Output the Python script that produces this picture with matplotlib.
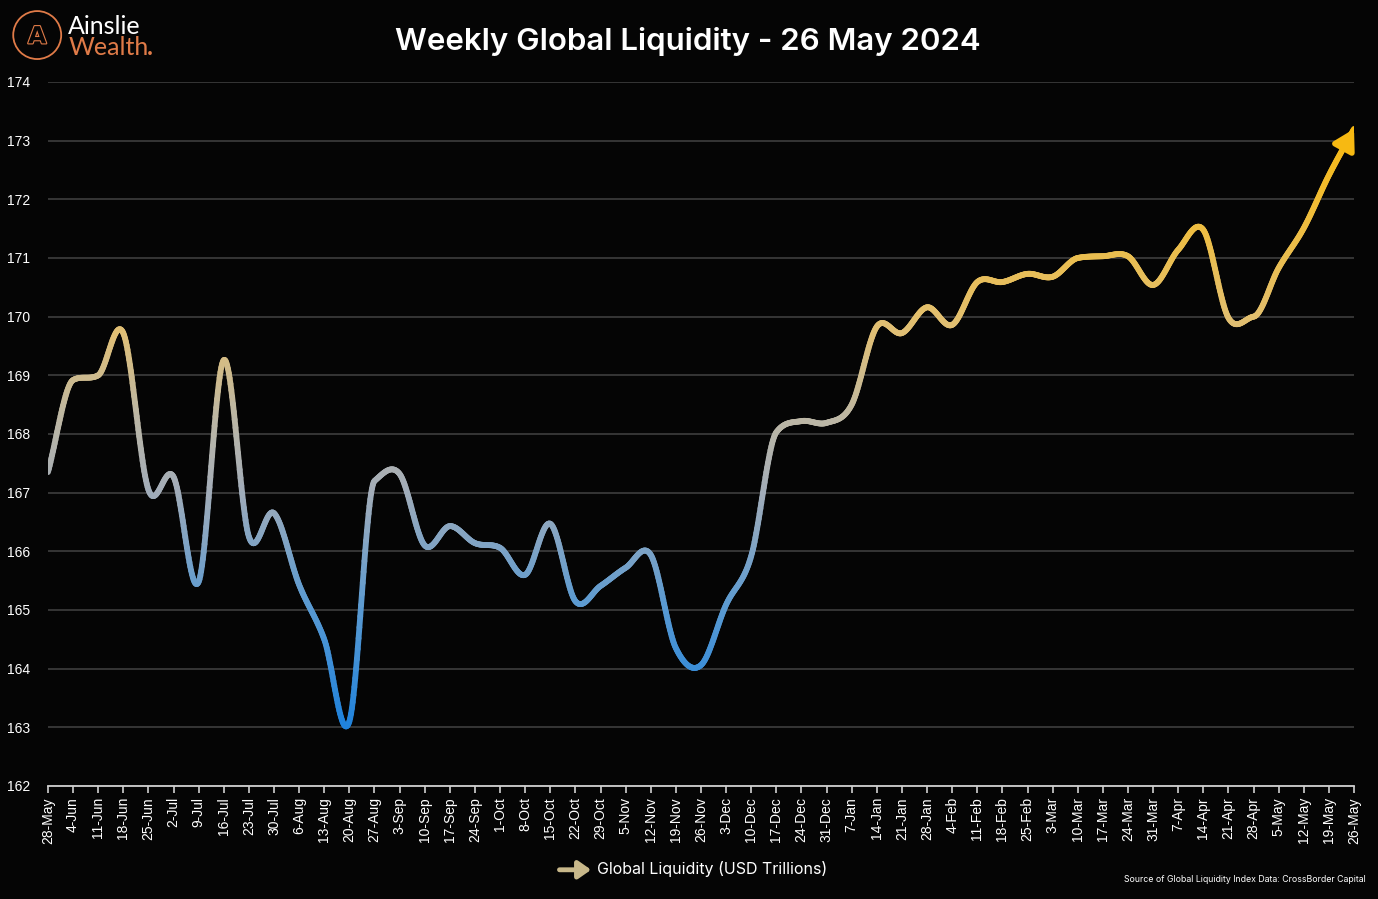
import numpy as np
import matplotlib
matplotlib.use("Agg")
import matplotlib.pyplot as plt
import matplotlib.patheffects as pe
from matplotlib.collections import LineCollection
from matplotlib.colors import LinearSegmentedColormap, Normalize
from matplotlib.patches import Circle, FancyArrowPatch

# weekly dates (28-May-2023 .. 26-May-2024)
dates = ["28-May", "4-Jun", "11-Jun", "18-Jun", "25-Jun", "2-Jul", "9-Jul", "16-Jul",
         "23-Jul", "30-Jul", "6-Aug", "13-Aug", "20-Aug", "27-Aug", "3-Sep", "10-Sep",
         "17-Sep", "24-Sep", "1-Oct", "8-Oct", "15-Oct", "22-Oct", "29-Oct", "5-Nov",
         "12-Nov", "19-Nov", "26-Nov", "3-Dec", "10-Dec", "17-Dec", "24-Dec", "31-Dec",
         "7-Jan", "14-Jan", "21-Jan", "28-Jan", "4-Feb", "11-Feb", "18-Feb", "25-Feb",
         "3-Mar", "10-Mar", "17-Mar", "24-Mar", "31-Mar", "7-Apr", "14-Apr", "21-Apr",
         "28-Apr", "5-May", "12-May", "19-May", "26-May"]

# global liquidity, USD trillions
liquidity = [167.35, 168.92, 169.00, 169.72, 167.05, 167.27, 165.48, 169.26,
             166.25, 166.65, 165.43, 164.50, 163.10, 167.20, 167.32, 166.10,
             166.43, 166.14, 166.06, 165.60, 166.47, 165.15, 165.41, 165.72,
             165.94, 164.35, 164.06, 165.09, 165.92, 168.03, 168.22, 168.19,
             168.50, 169.83, 169.72, 170.16, 169.86, 170.59, 170.59, 170.73,
             170.68, 171.00, 171.03, 171.03, 170.54, 171.14, 171.48, 169.98,
             170.00, 170.83, 171.51, 172.41, 173.20]

yticks = list(range(162, 175))

BG = "#050505"
ORANGE = "#e07b48"


def smooth(y, n=30):
    # cardinal spline through the weekly points, slopes limited where the
    # series keeps its direction (only used to draw the curve)
    y = np.asarray(y, dtype=float)
    d = np.diff(y)
    m = np.gradient(y)
    for i in range(1, len(y) - 1):
        if d[i - 1] * d[i] > 0:
            lim = 3 * min(abs(d[i - 1]), abs(d[i]))
            m[i] = np.sign(m[i]) * min(abs(m[i]), lim)
    xs, ys = [], []
    for i in range(len(y) - 1):
        t = np.linspace(0, 1, n, endpoint=False)
        h00 = 2 * t**3 - 3 * t**2 + 1
        h10 = t**3 - 2 * t**2 + t
        h01 = -2 * t**3 + 3 * t**2
        h11 = t**3 - t**2
        xs.append(i + t)
        ys.append(h00 * y[i] + h10 * m[i] + h01 * y[i + 1] + h11 * m[i + 1])
    xs.append([len(y) - 1])
    ys.append([y[-1]])
    return np.concatenate(xs), np.concatenate(ys)


cmap = LinearSegmentedColormap.from_list("liq", [
    (0.0, "#1f82dc"), (0.2, "#5a9ad2"), (0.4, "#a4adb8"), (0.52, "#bdb7a4"),
    (0.66, "#e0bf76"), (0.85, "#efbd3e"), (1.0, "#f7b912")])
norm = Normalize(163, 173.2)

fig = plt.figure(figsize=(13.78, 8.99), dpi=100, facecolor=BG)
ax = fig.add_axes([0.0348, 0.1257, 0.9478, 0.7831], facecolor=BG)

xs, ys = smooth(liquidity)
pts = np.column_stack([xs, ys]).reshape(-1, 1, 2)
segs = np.concatenate([pts[:-1], pts[1:]], axis=1)
lc = LineCollection(segs, cmap=cmap, norm=norm, linewidths=4.2, capstyle="round",
                    joinstyle="round", zorder=3)
lc.set_array((ys[:-1] + ys[1:]) / 2)
ax.add_collection(lc)

# arrow head at the last week
ax.annotate("", xy=(len(liquidity) - 1, liquidity[-1]),
            xytext=(xs[-6], ys[-6]),
            arrowprops=dict(arrowstyle="-|>,head_length=0.6,head_width=0.35",
                            color=cmap(1.0), lw=4, mutation_scale=20,
                            shrinkA=0, shrinkB=0),
            annotation_clip=False, zorder=4)

ax.set_xlim(0, len(dates) - 1)
ax.set_ylim(162, 174)
ax.set_yticks(yticks)
ax.set_xticks(range(len(dates)))
ax.set_xticklabels(dates, rotation=90, fontsize=10, color="white",
                   family="Liberation Sans")
for lab in ax.get_yticklabels():
    lab.set_family("Liberation Sans")
ax.tick_params(axis="y", length=0, pad=13, labelsize=10, labelcolor="white")
ax.tick_params(axis="x", length=5, width=1.2, color="#d0d0d0", pad=3)
ax.grid(axis="y", color="#3a3a3a", lw=1.3)
for s in ["top", "right", "left"]:
    ax.spines[s].set_visible(False)
ax.spines["bottom"].set_color("#d0d0d0")
ax.spines["bottom"].set_linewidth(1.3)
ax.set_axisbelow(True)

fig.text(0.499, 0.954, "Weekly Global Liquidity - 26 May 2024", ha="center",
         va="center", fontsize=22.5, color="white", family="Inter", weight="semibold")

# logo
lax = fig.add_axes([0.008, 0.932, 0.038, 0.058])
lax.set_xlim(-1, 1)
lax.set_ylim(-1, 1)
lax.set_aspect("equal")
lax.axis("off")
lax.add_patch(Circle((0, 0), 0.92, fill=False, ec=ORANGE, lw=1.3))
lax.text(0, -0.05, "A", ha="center", va="center", fontsize=17, color=BG,
         family="DejaVu Sans", weight="bold",
         path_effects=[pe.withStroke(linewidth=1.6, foreground=ORANGE)])
fig.text(0.0495, 0.971, "Ainslie", ha="left", va="center", fontsize=18,
         color="white", family="Lato")
fig.text(0.0495, 0.947, "Wealth", ha="left", va="center", fontsize=18,
         color=ORANGE, family="Lato")
fig.text(0.1065, 0.947, ".", ha="left", va="center", fontsize=18,
         color=ORANGE, family="Lato", weight="bold")

# legend
fig.add_artist(FancyArrowPatch(
    (0.404, 0.0325), (0.431, 0.0325), transform=fig.transFigure,
    arrowstyle="-|>,head_length=0.5,head_width=0.35", mutation_scale=15,
    color="#c8b88a", lw=3.5))
fig.text(0.4335, 0.0335, "Global Liquidity (USD Trillions)", ha="left", va="center",
         fontsize=11.5, color="white", family="Inter")

fig.text(0.991, 0.0215, "Source of Global Liquidity Index Data: CrossBorder Capital",
         ha="right", va="center", fontsize=6.3, color="white", family="Inter")

fig.savefig("out.png", dpi=100, facecolor=BG)
